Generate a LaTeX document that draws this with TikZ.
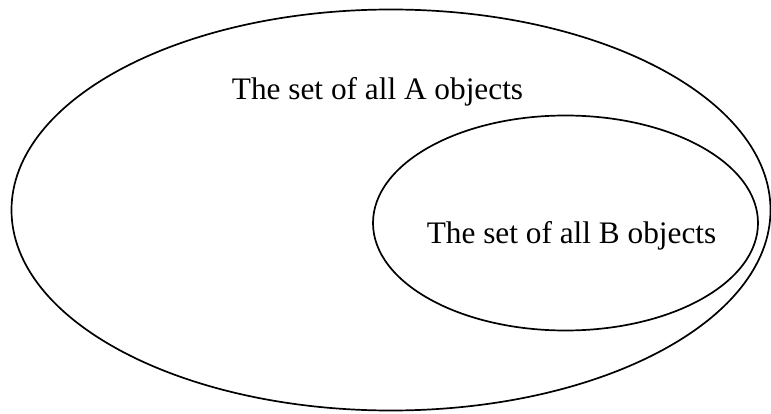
\documentclass[tikz,border=0pt]{standalone}
\usepackage{fontspec}
\setmainfont{Liberation Serif}
\usetikzlibrary{shapes.geometric}
\begin{document}
\begin{tikzpicture}[x=1pt,y=1pt,
  setline/.style={draw=black,line width=1.7pt},
  setlabel/.style={font=\fontsize{31.3}{36}\selectfont,anchor=base,inner sep=0pt}]
\useasboundingbox (0,0) rectangle (771,413);
\draw[setline] (391,203) ellipse [x radius=379.5, y radius=200.5];
\draw[setline] (565.5,190) ellipse [x radius=192.5, y radius=107.5];
\node[setlabel] (la) at (377.5,313) {The set of all A objects};
\node[setlabel] (lb) at (571.5,170) {The set of all B objects};
\end{tikzpicture}
\end{document}
